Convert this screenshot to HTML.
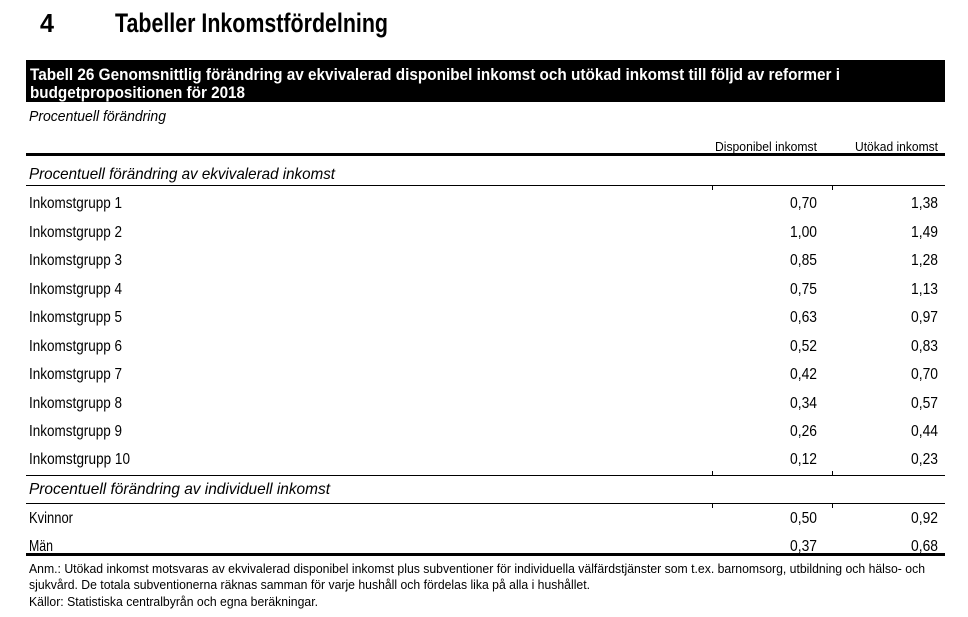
<!DOCTYPE html>
<html><head><meta charset="utf-8"><style>
html,body{margin:0;padding:0;background:#fff;}
svg{display:block;font-family:"Liberation Sans",sans-serif;}
</style></head><body>
<svg width="968" height="617" viewBox="0 0 968 617" xmlns="http://www.w3.org/2000/svg">
<g fill="#000">
<text x="40" y="32" font-size="26" font-weight="bold" textLength="14" lengthAdjust="spacingAndGlyphs">4</text>
<text x="115" y="32" font-size="27" font-weight="bold" textLength="273" lengthAdjust="spacingAndGlyphs">Tabeller Inkomstfördelning</text>
<rect x="26" y="60" width="919" height="42" fill="#000"/>
<text x="30" y="80" font-size="17" font-weight="bold" fill="#fff" textLength="810" lengthAdjust="spacingAndGlyphs">Tabell 26  Genomsnittlig förändring av ekvivalerad disponibel inkomst och utökad inkomst till följd av reformer i</text>
<text x="30" y="98" font-size="17" font-weight="bold" fill="#fff" textLength="215" lengthAdjust="spacingAndGlyphs">budgetpropositionen för 2018</text>
<text x="29" y="121" font-size="15" font-style="italic" textLength="137" lengthAdjust="spacingAndGlyphs">Procentuell förändring</text>
<text x="715" y="151" font-size="13" textLength="102" lengthAdjust="spacingAndGlyphs">Disponibel inkomst</text>
<text x="855" y="151" font-size="13" textLength="83" lengthAdjust="spacingAndGlyphs">Utökad inkomst</text>
<rect x="26" y="153" width="919" height="3"/>
<text x="29" y="179" font-size="16" font-style="italic" textLength="306" lengthAdjust="spacingAndGlyphs">Procentuell förändring av ekvivalerad inkomst</text>
<rect x="26" y="185" width="919" height="1"/>
<rect x="712" y="186" width="1" height="4"/><rect x="832" y="186" width="1" height="4"/>
<g font-size="16">
<text x="29" y="208" textLength="93" lengthAdjust="spacingAndGlyphs">Inkomstgrupp 1</text>
<text x="29" y="237" textLength="93" lengthAdjust="spacingAndGlyphs">Inkomstgrupp 2</text>
<text x="29" y="265" textLength="93" lengthAdjust="spacingAndGlyphs">Inkomstgrupp 3</text>
<text x="29" y="294" textLength="93" lengthAdjust="spacingAndGlyphs">Inkomstgrupp 4</text>
<text x="29" y="322" textLength="93" lengthAdjust="spacingAndGlyphs">Inkomstgrupp 5</text>
<text x="29" y="351" textLength="93" lengthAdjust="spacingAndGlyphs">Inkomstgrupp 6</text>
<text x="29" y="379" textLength="93" lengthAdjust="spacingAndGlyphs">Inkomstgrupp 7</text>
<text x="29" y="408" textLength="93" lengthAdjust="spacingAndGlyphs">Inkomstgrupp 8</text>
<text x="29" y="436" textLength="93" lengthAdjust="spacingAndGlyphs">Inkomstgrupp 9</text>
<text x="29" y="464" textLength="101" lengthAdjust="spacingAndGlyphs">Inkomstgrupp 10</text>
</g>
<g font-size="16" text-anchor="end">
<text x="817" y="208" textLength="27" lengthAdjust="spacingAndGlyphs">0,70</text><text x="938" y="208" textLength="27" lengthAdjust="spacingAndGlyphs">1,38</text>
<text x="817" y="237" textLength="27" lengthAdjust="spacingAndGlyphs">1,00</text><text x="938" y="237" textLength="27" lengthAdjust="spacingAndGlyphs">1,49</text>
<text x="817" y="265" textLength="27" lengthAdjust="spacingAndGlyphs">0,85</text><text x="938" y="265" textLength="27" lengthAdjust="spacingAndGlyphs">1,28</text>
<text x="817" y="294" textLength="27" lengthAdjust="spacingAndGlyphs">0,75</text><text x="938" y="294" textLength="27" lengthAdjust="spacingAndGlyphs">1,13</text>
<text x="817" y="322" textLength="27" lengthAdjust="spacingAndGlyphs">0,63</text><text x="938" y="322" textLength="27" lengthAdjust="spacingAndGlyphs">0,97</text>
<text x="817" y="351" textLength="27" lengthAdjust="spacingAndGlyphs">0,52</text><text x="938" y="351" textLength="27" lengthAdjust="spacingAndGlyphs">0,83</text>
<text x="817" y="379" textLength="27" lengthAdjust="spacingAndGlyphs">0,42</text><text x="938" y="379" textLength="27" lengthAdjust="spacingAndGlyphs">0,70</text>
<text x="817" y="408" textLength="27" lengthAdjust="spacingAndGlyphs">0,34</text><text x="938" y="408" textLength="27" lengthAdjust="spacingAndGlyphs">0,57</text>
<text x="817" y="436" textLength="27" lengthAdjust="spacingAndGlyphs">0,26</text><text x="938" y="436" textLength="27" lengthAdjust="spacingAndGlyphs">0,44</text>
<text x="817" y="464" textLength="27" lengthAdjust="spacingAndGlyphs">0,12</text><text x="938" y="464" textLength="27" lengthAdjust="spacingAndGlyphs">0,23</text>
<text x="817" y="523" textLength="27" lengthAdjust="spacingAndGlyphs">0,50</text><text x="938" y="523" textLength="27" lengthAdjust="spacingAndGlyphs">0,92</text>
<text x="817" y="551" textLength="27" lengthAdjust="spacingAndGlyphs">0,37</text><text x="938" y="551" textLength="27" lengthAdjust="spacingAndGlyphs">0,68</text>
</g>
<rect x="712" y="471" width="1" height="4"/><rect x="832" y="471" width="1" height="4"/>
<rect x="26" y="475" width="919" height="1"/>
<text x="29" y="494" font-size="16" font-style="italic" textLength="301" lengthAdjust="spacingAndGlyphs">Procentuell förändring av individuell inkomst</text>
<rect x="26" y="503" width="919" height="1"/>
<rect x="712" y="504" width="1" height="4"/><rect x="832" y="504" width="1" height="4"/>
<text x="29" y="523" font-size="16" textLength="44" lengthAdjust="spacingAndGlyphs">Kvinnor</text>
<text x="29" y="551" font-size="16" textLength="24" lengthAdjust="spacingAndGlyphs">Män</text>
<rect x="26" y="553" width="919" height="3"/>
<text x="29" y="573" font-size="13" textLength="896" lengthAdjust="spacingAndGlyphs">Anm.: Utökad inkomst motsvaras av ekvivalerad disponibel inkomst plus subventioner för individuella välfärdstjänster som t.ex. barnomsorg, utbildning och hälso- och</text>
<text x="29" y="589" font-size="13" textLength="561" lengthAdjust="spacingAndGlyphs">sjukvård. De totala subventionerna räknas samman för varje hushåll och fördelas lika på alla i hushållet.</text>
<text x="29" y="606" font-size="13" textLength="289" lengthAdjust="spacingAndGlyphs">Källor: Statistiska centralbyrån och egna beräkningar.</text>
</g>
</svg>
</body></html>
